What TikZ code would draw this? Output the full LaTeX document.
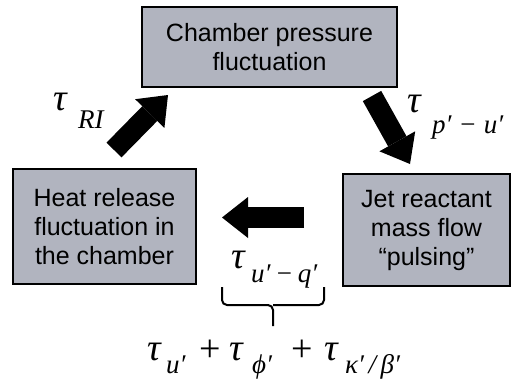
\documentclass[tikz,border=0pt]{standalone}
\usepackage{fontspec}
\setmainfont{Liberation Sans}
\newfontfamily\mathserif{Liberation Serif}
\usetikzlibrary{arrows.meta}
\definecolor{boxgrey}{RGB}{177,180,191}
\begin{document}
\begin{tikzpicture}[x=1pt,y=-1pt,
  box/.style={draw=black, line width=2pt, fill=boxgrey, align=center,
    font=\fontsize{25}{29}\selectfont, inner sep=0pt},
  blockarrow/.style={line width=21pt, -{Triangle[length=26pt,width=41pt,line width=0pt]}},
  tau/.style={font=\mathserif\itshape\fontsize{38}{38}\selectfont, inner sep=0pt, anchor=base west},
  sub/.style={font=\mathserif\itshape\fontsize{27}{27}\selectfont, inner sep=0pt, anchor=base west},
  plus/.style={font=\mathserif\fontsize{38}{38}\selectfont, inner sep=0pt, anchor=base west},
  bracepath/.style={line width=2pt, rounded corners=5pt}
]
\useasboundingbox (0,0) rectangle (511,383);
\clip (0,0) rectangle (511,383);

% boxes
\node[box, minimum width=255pt, minimum height=80pt] (top) at (269.5,47) {Chamber pressure\\fluctuation};
\node[box, minimum width=183pt, minimum height=115pt] (left) at (104.5,226.5) {Heat release\\fluctuation in\\the chamber};
\node[box, minimum width=167pt, minimum height=112pt] (right) at (426.5,230) {Jet reactant\\mass flow\\“pulsing”};

% block arrows
\coordinate (a1s) at (114,150); \coordinate (a1e) at (168,95);
\coordinate (a2s) at (372,96);  \coordinate (a2e) at (410,164);
\coordinate (a3s) at (304,217.5); \coordinate (a3e) at (222,217.5);
\draw[blockarrow] (a1s) -- (a1e);
\draw[blockarrow] (a2s) -- (a2e);
\draw[blockarrow] (a3s) -- (a3e);

% labels
\node[tau] (tRI) at (53,110) {τ};
\node[sub] (sRI) at (78,128) {RI};
\node[tau] (tpu) at (407,112) {τ};
\node[sub] (spu) at (432,133) {p′\hspace{7pt}−\hspace{7pt}u′};
\node[tau] (tuq) at (231,268) {τ};
\node[sub] (suq) at (251,282) {u′\,−\,q′};

% brace
\coordinate (bl) at (222,287); \coordinate (br) at (324,287);
\coordinate (bm) at (273,305); \coordinate (bt) at (273,326);
\draw[bracepath] (bl) |- (bm) -- (bt);
\draw[bracepath] (br) |- (bm);

% bottom formula
\node[tau] (t1) at (147,360) {τ};
\node[sub] (s1) at (166,373) {u′};
\node[plus] (p1) at (199,361) {+};
\node[tau] (t2) at (229,360) {τ};
\node[sub] (s2) at (252,373) {ϕ′};
\node[plus] (p2) at (291,361) {+};
\node[tau] (t3) at (324,360) {τ};
\node[sub] (s3) at (345,373) {κ′\,/\,β′};
\end{tikzpicture}
\end{document}
